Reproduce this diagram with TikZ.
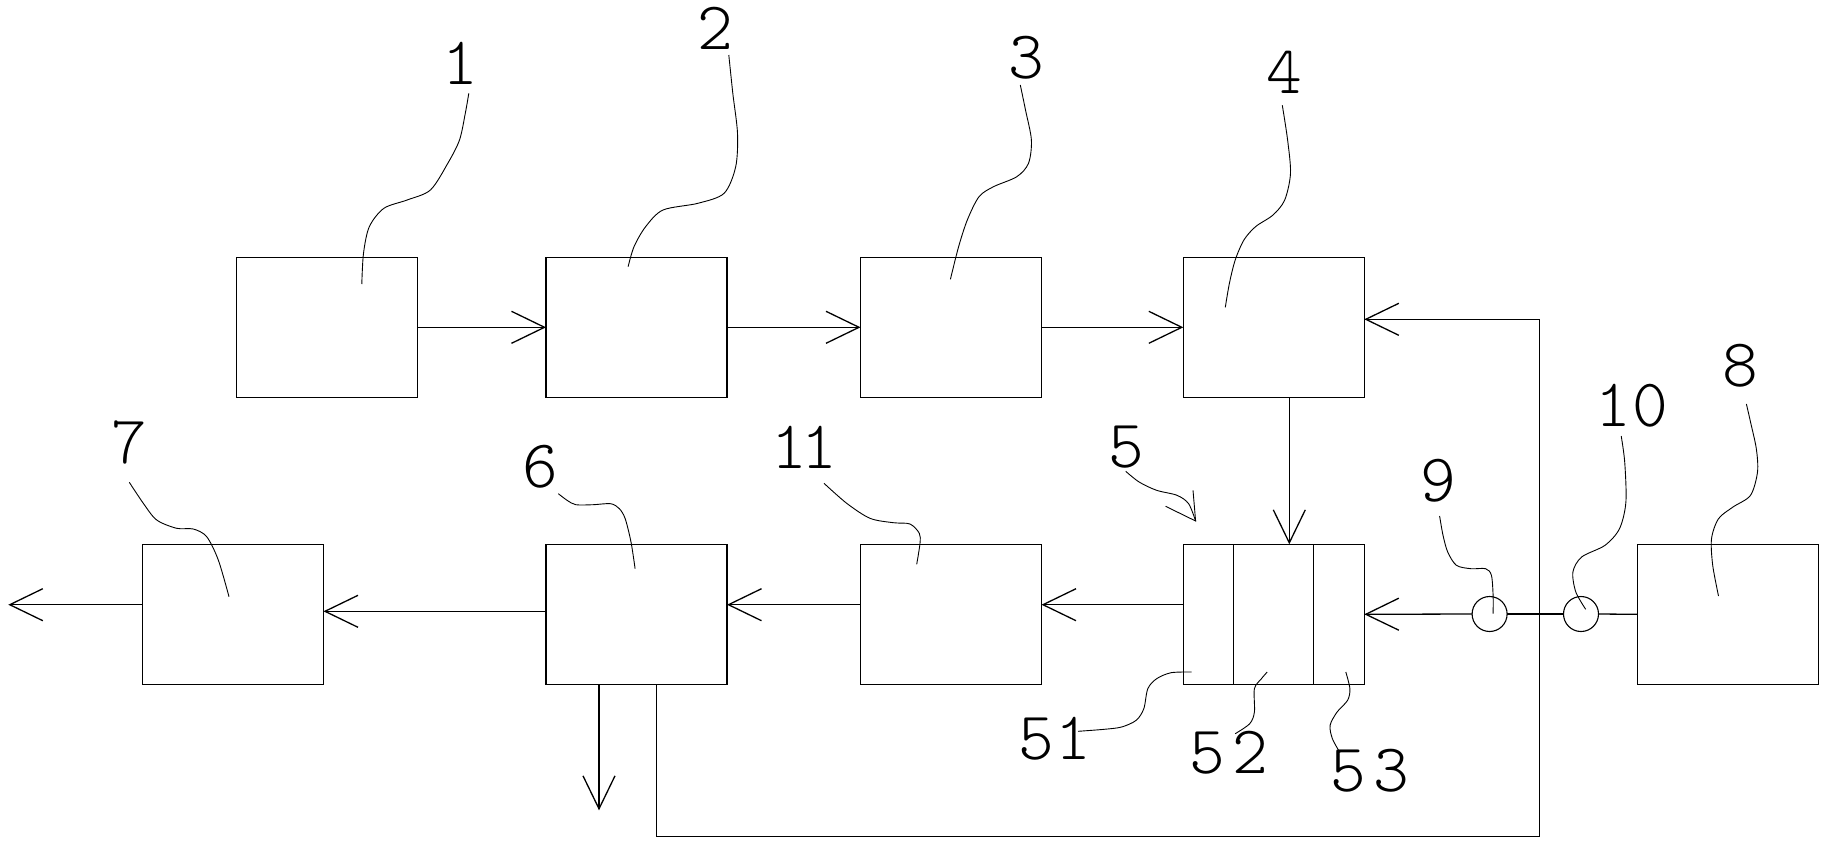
\documentclass[tikz,border=0pt]{standalone}
\usetikzlibrary{arrows.meta}
\begin{document}
\begin{tikzpicture}[x=1pt,y=-1pt,
  box/.style={draw,line width=1.3pt,minimum width=181pt,minimum height=140pt,inner sep=0pt,outer sep=0pt},
  ring/.style={draw,line width=1.1pt,circle,minimum size=35pt,inner sep=0pt,outer sep=0pt},
  lab/.style={inner sep=0pt,font=\fontsize{68}{68}\ttfamily\fontseries{l}\selectfont},
  conn/.style={line width=1.3pt},
  flow/.style={line width=1.3pt,-{Straight Barb[length=33pt,width=32pt]}},
  leader/.style={line width=0.9pt},
  ]
\useasboundingbox (0,0) rectangle (1825,844);
% boxes
\node[box] (b1) at (327.3,327.3) {};
\node[box] (b2) at (636.5,327.3) {};
\node[box] (b3) at (951,327.3) {};
\node[box] (b4) at (1273.8,327.3) {};
\node[box] (b7) at (233,614.3) {};
\node[box] (b6) at (636.5,614.3) {};
\node[box] (b11) at (951,614.3) {};
\node[box] (b5) at (1273.8,614.3) {};
\node[box] (b8) at (1727.8,614.3) {};
% compartments of 5
\draw[conn] ([xshift=-40.4pt]b5.north) -- ([xshift=-40.4pt]b5.south);
\draw[conn] ([xshift=39.4pt]b5.north) -- ([xshift=39.4pt]b5.south);
% rings
\node[ring] (c9) at (1489.6,614) {};
\node[ring] (c10) at (1581,614) {};
% named free ends
\coordinate (out7) at (8.3,604.7);
\coordinate (down6) at (599,810.3);
\coordinate (fbA) at (656.6,836.3);
\coordinate (fbB) at (1539.7,836.3);
% flows top row
\draw[flow] (b1.east) -- (b2.west);
\draw[flow] (b2.east) -- (b3.west);
\draw[flow] (b3.east) -- (b4.west);
\draw[flow] ([xshift=15.5pt]b4.south) -- ([xshift=15.5pt]b5.north);
% bottom row
\draw[flow] (c9.west) -- (b5.east);
\draw[flow] ([yshift=9.6pt]b5.west) -- ([yshift=9.6pt]b11.east);
\draw[flow] ([yshift=9.6pt]b11.west) -- ([yshift=9.6pt]b6.east);
\draw[flow] ([yshift=3pt]b6.west) -- ([yshift=3pt]b7.east);
\draw[flow] ([yshift=9.6pt]b7.west) -- (out7);
\draw[flow] (b6.south -| down6) -- (down6);
\draw[conn] (c9.east) -- (c10.west);
\draw[conn] (c10.east) -- (b8.west);
% feedback
\draw[flow] (b6.south -| fbA) -- (fbA) -- (fbB) |- ([yshift=8pt]b4.east);
% labels
\node[lab] (l1) at (460,63) {1};
\node[lab] (l2) at (715.5,28) {2};
\node[lab] (l3) at (1026.5,58) {3};
\node[lab] (l4) at (1284.5,72.8) {4};
\node[lab] (l5) at (1126,447) {5};
\node[lab] (l6) at (540.5,466.5) {6};
\node[lab] (l7) at (129,443) {7};
\node[lab] (l8) at (1740.5,365.3) {8};
\node[lab] (l9) at (1438.5,480.3) {9};
\node[lab] (l10) at (1632,406) {1\hspace{2pt}0};
\node[lab] (l11) at (804,447.7) {1\hspace{-6pt}1};
\node[lab] (l51) at (1054.7,738.7) {5\hspace{2pt}1};
\node[lab] (l52) at (1229,752.3) {5\hspace{7pt}2};
\node[lab] (l53) at (1370,770.7) {5\hspace{7pt}3};
% leaders
\draw[leader] plot[smooth,tension=0.5] coordinates {(468.8,93.3) (465.3,113.3) (459.5,140) (447.8,163.3) (430.4,190) (407.1,200) (383.9,208.3) (369.3,226.7) (363.5,253.3) (361.8,284)};
\draw[leader] plot[smooth,tension=0.5] coordinates {(728.8,55) (732.8,93.3) (737.5,133.3) (735.7,166.7) (724.1,193.3) (697.9,203.3) (663,210) (645.6,226.7) (634,246.7) (628.1,266.7)};
\draw[leader] plot[smooth,tension=0.5] coordinates {(1020.3,85) (1025.5,110) (1031.4,140) (1028.5,163.3) (1016.8,176.7) (993.5,186.7) (979,196.7) (967.3,220) (958.6,246.7) (950.4,279.3)};
\draw[leader] plot[smooth,tension=0.5] coordinates {(1282.3,105.3) (1287.6,140) (1290.5,173.3) (1284.7,200) (1273,215) (1255.5,226.7) (1243.9,240) (1235.2,260) (1229.4,283.3) (1225.3,307.3)};
\draw[leader] plot[smooth,tension=0.5] coordinates {(1125.7,471.3) (1139.1,482) (1156.6,490.3) (1177,495.3) (1188.6,503.7) (1195.6,521)};
\coordinate (tip5) at (1195.6,521);
\draw[leader] (1165.6,506.3) -- (tip5) -- (1193,490.3);
\draw[leader] plot[smooth,tension=0.5] coordinates {(558.3,493.7) (567.1,500.3) (575.8,504.7) (593.2,504.7) (610.7,503.7) (619.4,508.7) (625.2,518.7) (631,542) (635.1,568.7)};
\draw[leader] plot[smooth,tension=0.5] coordinates {(129.3,482.3) (143.3,503.3) (156.7,520) (176.7,528.3) (193.3,529) (206.7,536.7) (218.3,560) (229,596.7)};
\draw[leader] plot[smooth,tension=0.5] coordinates {(1746.4,404) (1750.5,422) (1756.3,448.7) (1757.5,472) (1750.5,495.3) (1733,507) (1718.5,518.7) (1711.5,538.7) (1712.7,565.3) (1718.5,596)};
\draw[leader] plot[smooth,tension=0.5] coordinates {(1439.6,516) (1443,535.3) (1447.7,552) (1456.4,565.3) (1471,568.7) (1485.6,568.7) (1491.4,575.3) (1493.1,595.3) (1493.1,613.7)};
\draw[leader] plot[smooth,tension=0.5] coordinates {(1621.2,436) (1624.7,462) (1625.9,502) (1619.5,528.7) (1605,545.3) (1581.6,557) (1572.9,572) (1575.8,592) (1585.7,609.3)};
\draw[leader] plot[smooth,tension=0.5] coordinates {(824,483.3) (846.7,503.3) (870,518.3) (893.3,522.7) (910,524) (919.3,533.3) (920,543.3) (916.7,564.3)};
\draw[leader] plot[smooth,tension=0.5] coordinates {(1078,731.3) (1104.2,729.3) (1121.6,727) (1136.2,720.3) (1143.8,708.7) (1147.8,688.7) (1156.6,678.7) (1171.1,672.7) (1191.5,672)};
\draw[leader] plot[smooth,tension=0.5] coordinates {(1235.2,733.7) (1249.7,723.7) (1254.4,712) (1254.4,688.7) (1261.4,678.7) (1267.2,672)};
\draw[leader] plot[smooth,tension=0.5] coordinates {(1340,752.7) (1332.4,738.7) (1330.1,725.3) (1337.1,712) (1347.6,700.3) (1349.9,688.7) (1345.8,672)};
\end{tikzpicture}
\end{document}
